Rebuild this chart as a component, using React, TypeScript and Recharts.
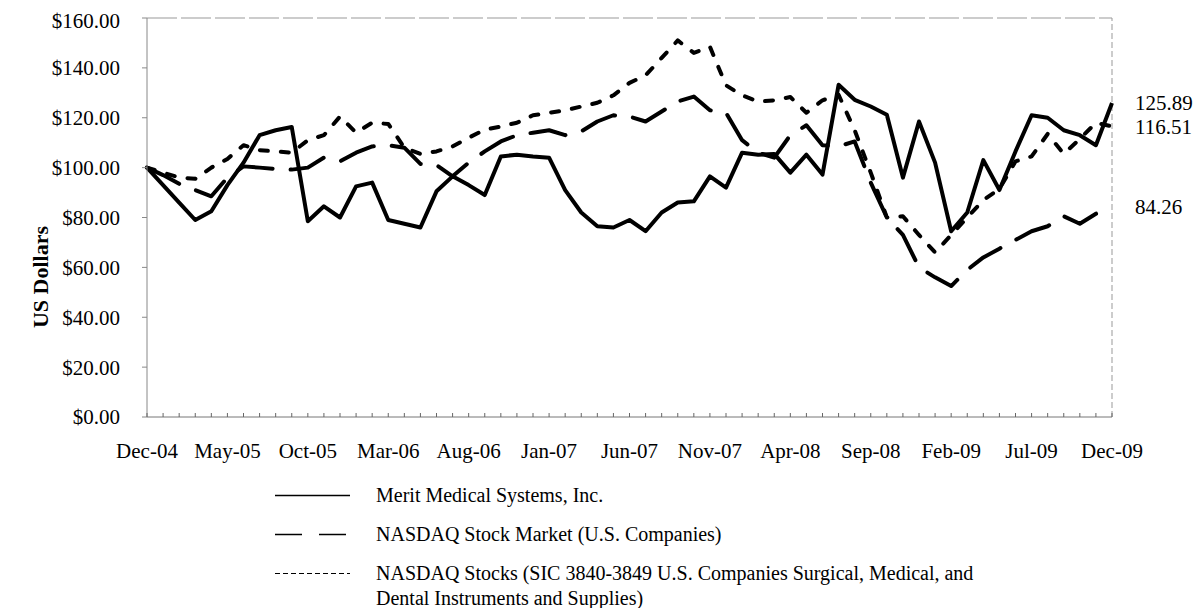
import React from 'react';
import { LineChart, Line, XAxis, YAxis, ReferenceLine, Legend } from 'recharts';

const months = [
  'Dec-04',
  'Jan-05', 'Feb-05', 'Mar-05', 'Apr-05', 'May-05', 'Jun-05', 'Jul-05', 'Aug-05', 'Sep-05', 'Oct-05', 'Nov-05', 'Dec-05',
  'Jan-06', 'Feb-06', 'Mar-06', 'Apr-06', 'May-06', 'Jun-06', 'Jul-06', 'Aug-06', 'Sep-06', 'Oct-06', 'Nov-06', 'Dec-06',
  'Jan-07', 'Feb-07', 'Mar-07', 'Apr-07', 'May-07', 'Jun-07', 'Jul-07', 'Aug-07', 'Sep-07', 'Oct-07', 'Nov-07', 'Dec-07',
  'Jan-08', 'Feb-08', 'Mar-08', 'Apr-08', 'May-08', 'Jun-08', 'Jul-08', 'Aug-08', 'Sep-08', 'Oct-08', 'Nov-08', 'Dec-08',
  'Jan-09', 'Feb-09', 'Mar-09', 'Apr-09', 'May-09', 'Jun-09', 'Jul-09', 'Aug-09', 'Sep-09', 'Oct-09', 'Nov-09', 'Dec-09',
];

// Merit Medical Systems, Inc.
const merit = [
  100, 93, 86, 79, 82.5, 93, 102, 113, 115, 116.3,
  78.5, 84.5, 80, 92.5, 94, 79, 77.5, 76, 90.5, 96.5,
  93, 89, 104.5, 105.2, 104.5, 104, 91, 82, 76.5, 76,
  79, 74.5, 82, 86, 86.5, 96.5, 92, 106, 105.2, 105.5,
  98, 105.2, 97.2, 133.2, 127.2, 124.5, 121.2, 96, 118.5, 102,
  74.5, 82, 103, 91, 106.5, 121, 120, 115, 113, 109,
  125.89,
];

// NASDAQ Stock Market (U.S. Companies)
const nasdaq = [
  100, 97, 93.5, 91, 88.5, 96, 100.5, 100, 99.5, 99.2,
  100, 104, 102.5, 106, 108.5, 109, 108, 101.5, 101, 96.5,
  102, 106.5, 110.5, 113, 114, 115, 113, 114.5, 118.5, 121,
  120.5, 118.5, 122.5, 126.5, 128.5, 123, 122, 111, 106, 104,
  113, 117, 109, 108.5, 110.5, 94, 80, 73, 60, 56,
  52.5, 59, 64, 67.5, 71, 74.5, 76.5, 80.5, 77.5, 81.5,
  84.26,
];

// NASDAQ Stocks (SIC 3840-3849)
const sic = [
  100, 98, 96, 95.5, 100, 103.5, 109, 107, 106.5, 106,
  111, 113, 120.5, 114, 118, 117.5, 108, 105.5, 106.5, 108.5,
  112, 115.2, 116.5, 118, 121, 122, 123, 124.5, 126, 129,
  134, 137, 144, 151, 146, 148.5, 133, 129, 126.5, 127,
  128.3, 122, 127, 129.2, 115, 98, 80, 80.5, 73, 66,
  73, 80, 87, 91.5, 102.5, 104.5, 113.5, 105.5, 111.5, 118,
  116.51,
];

const yTicks = [0, 20, 40, 60, 80, 100, 120, 140, 160];
const monthTicks = months.map((_, i) => i);

const legendItems = [
  { key: 'merit', lines: ['Merit Medical Systems, Inc.'], dash: undefined, width: 1.6 },
  { key: 'nasdaq', lines: ['NASDAQ Stock Market (U.S. Companies)'], dash: '27 17', width: 1.6 },
  {
    key: 'sic',
    lines: ['NASDAQ Stocks (SIC 3840-3849 U.S. Companies Surgical, Medical, and', 'Dental Instruments and Supplies)'],
    dash: '5 3',
    width: 1.1,
  },
];

const data = months.map((m, i) => ({
  idx: i,
  month: m,
  merit: merit[i],
  nasdaq: nasdaq[i],
  sic: sic[i],
}));

const FONT = '"Liberation Serif", "Times New Roman", serif';

function MonthTick(props: any) {
  const { x, y, payload } = props;
  const i = payload.value;
  return (
    <g>
      <line x1={x} y1={y} x2={x} y2={y - 4} stroke="#666" strokeWidth={1} />
      {i % 5 === 0 && (
        <text x={x} y={y + 41} textAnchor="middle" fontSize={21} fontFamily={FONT} fill="#000">
          {months[i]}
        </text>
      )}
    </g>
  );
}

function endLabel(last: number) {
  return (props: any) => {
    const { x, y, index, value } = props;
    if (index !== last) return null;
    return (
      <text x={x + 23} y={y} dy="0.35em" fontSize={21} fontFamily={FONT} fill="#000">
        {value}
      </text>
    );
  };
}

function LegendRows() {
  return (
    <div style={{ fontFamily: FONT, fontSize: 20, color: '#000' }}>
      {legendItems.map((item) => (
        <div
          key={item.key}
          style={{ display: 'flex', alignItems: 'flex-start', marginBottom: 14 }}
        >
          <svg width={75} height={25} style={{ flex: 'none' }}>
            <line
              x1={0}
              y1={12.5}
              x2={75}
              y2={12.5}
              stroke="#000"
              strokeWidth={item.width}
              strokeDasharray={item.dash}
            />
          </svg>
          <div style={{ marginLeft: 26, lineHeight: '25px', whiteSpace: 'nowrap' }}>
            {item.lines.map((t) => (
              <div key={t}>{t}</div>
            ))}
          </div>
        </div>
      ))}
    </div>
  );
}

export default function App() {
  const last = months.length - 1;
  return (
    <LineChart
      width={1190}
      height={600}
      data={data}
      margin={{ top: 10, right: 86, bottom: 161, left: 0 }}
      style={{ fontFamily: FONT }}
    >
      <XAxis
        dataKey="idx"
        type="number"
        domain={[0, last]}
        ticks={monthTicks}
        interval={0}
        tickSize={0}
        tickMargin={0}
        tick={<MonthTick />}
        height={30}
        stroke="#777"
      />
      <YAxis
        domain={[0, 160]}
        ticks={yTicks}
        width={139}
        tickSize={5}
        tickMargin={22}
        stroke="#888"
        tickFormatter={(v: number) => `$${v.toFixed(2)}`}
        tick={{ fill: '#000', fontSize: 21, fontFamily: FONT }}
        label={() => (
          <text
            x={32}
            y={269}
            transform="rotate(-90, 32, 269)"
            textAnchor="middle"
            dominantBaseline="central"
            fontSize={22}
            fontWeight="bold"
            fontFamily={FONT}
            fill="#000"
          >
            US Dollars
          </text>
        )}
      />
      <ReferenceLine y={160} stroke="#999" strokeDasharray="30 4" />
      <ReferenceLine x={last} stroke="#999" strokeDasharray="6 3" />
      <Line
        dataKey="nasdaq"
        stroke="#000"
        strokeWidth={4}
        strokeDasharray="36 18"
        strokeLinecap="round"
        strokeLinejoin="round"
        dot={false}
        isAnimationActive={false}
        label={endLabel(last)}
      />
      <Line
        dataKey="sic"
        stroke="#000"
        strokeWidth={4}
        strokeDasharray="8 13"
        strokeLinecap="round"
        strokeLinejoin="round"
        dot={false}
        isAnimationActive={false}
        label={endLabel(last)}
      />
      <Line
        dataKey="merit"
        stroke="#000"
        strokeWidth={4}
        strokeLinejoin="round"
        dot={false}
        isAnimationActive={false}
        label={endLabel(last)}
      />
      <Legend
        layout="vertical"
        align="center"
        verticalAlign="middle"
        wrapperStyle={{ position: 'absolute', top: 474.5, left: 267, width: 900 }}
        content={() => <LegendRows />}
      />
    </LineChart>
  );
}
